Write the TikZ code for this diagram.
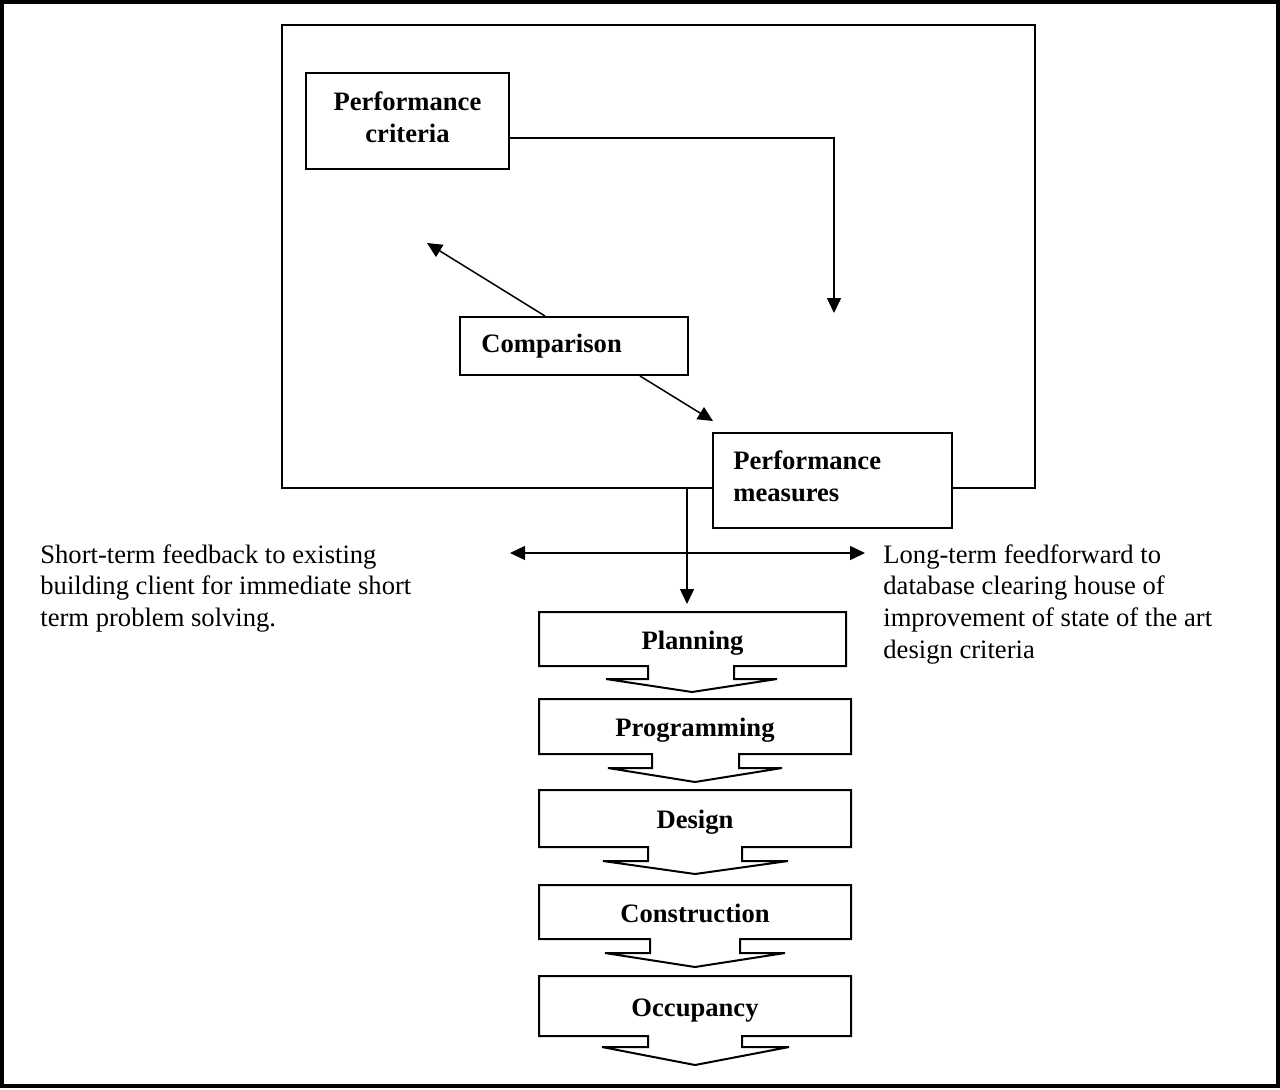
\documentclass[tikz,border=0pt]{standalone}
\usepackage{fontspec}
\setmainfont{Liberation Serif}
\usetikzlibrary{arrows.meta,fit,calc}
\tikzset{
  conn/.style={line width=0.75pt, -{Triangle[length=7.5pt,width=7pt]}},
  dconn/.style={line width=0.75pt, {Triangle[length=7.5pt,width=7pt]}-{Triangle[length=7.5pt,width=7pt]}},
  boxf/.style={draw, line width=1pt, fill=white, inner sep=0pt},
  lbl/.style={font=\fontsize{13.3}{16.2}\selectfont\bfseries, inner sep=0pt},
  plain/.style={font=\fontsize{13.3}{15.9}\selectfont, align=left, inner sep=0pt},
  stagebox/.style={draw, line width=1pt},
}
\begin{document}
\begin{tikzpicture}[x=0.5pt,y=-0.5pt]
\useasboundingbox (0,0) rectangle (1280,1089);
\draw[line width=2pt] (2,2) rectangle (1278,1086);
% large frame
\node[fit={(282,25) (1035,488)}, inner sep=0pt, draw, line width=0.75pt] (frame) {};
% boxes
\node[boxf, fit={(306,73) (509,169)}] (pc) {};
\node[lbl, align=center] (pct) at ($(pc.center)+(0,-4)$) {Performance\\criteria};
\node[boxf, fit={(460,317) (688,375)}] (cmp) {};
\node[lbl, anchor=west] (cmpt) at (481,346) {Comparison};
\node[boxf, fit={(713,433) (952,528)}] (pm) {};
\node[lbl, anchor=west, align=left] (pmt) at (733,476) {Performance\\measures};
% connectors
\coordinate (pcend) at (834,313);
\draw[conn] (pc.east |- 0,138) -| (pcend);
\coordinate (cmpA) at (427,243);
\draw[conn] (cmp.north -| 545,0) -- (cmpA);
\coordinate (cmpB) at (713,421);
\draw[conn] (cmp.south -| 640,0) -- (cmpB);
\coordinate (vend) at (687,604);
\draw[conn] (frame.south -| 687,0) -- (vend);
\coordinate (fbL) at (510,553);
\coordinate (fbR) at (865,553);
\draw[dconn] (fbL) -- (fbR);
% side texts
\node[plain, anchor=north west] (st) at (40,544) {Short-term feedback to existing\\building client for immediate short\\term problem solving.};
\node[plain, anchor=north west] (lt) at (883,544) {Long-term feedforward to\\database clearing house of\\improvement of state of the art\\design criteria};
% stages
\foreach \nm/\lab/\xr/\ya/\yb/\pa/\pb/\yc/\qa/\qb/\tx/\ty in {
  plan/Planning/846/612/666/648/734/679/606/777/692/692,
  prog/Programming/851/699/754/652/739/768/608/782/695/782,
  des/Design/851/790/847/648/742/861/603/788/695/874,
  cons/Construction/851/885/939/650/740/953/605/785/695/967,
  occ/Occupancy/851/976/1036/648/742/1047/602/789/695/1065}
{
  \draw[stagebox] (539,\ya) -- (\xr,\ya) -- (\xr,\yb) -- (\pb,\yb) -- (\pb,\yc) -- (\qb,\yc) -- (\tx,\ty) -- (\qa,\yc) -- (\pa,\yc) -- (\pa,\yb) -- (539,\yb) -- cycle;
  \node[lbl, anchor=base] (\nm) at ({(539+\xr)/2},{(\ya+\yb)/2+10}) {\lab};
}
\end{tikzpicture}
\end{document}
